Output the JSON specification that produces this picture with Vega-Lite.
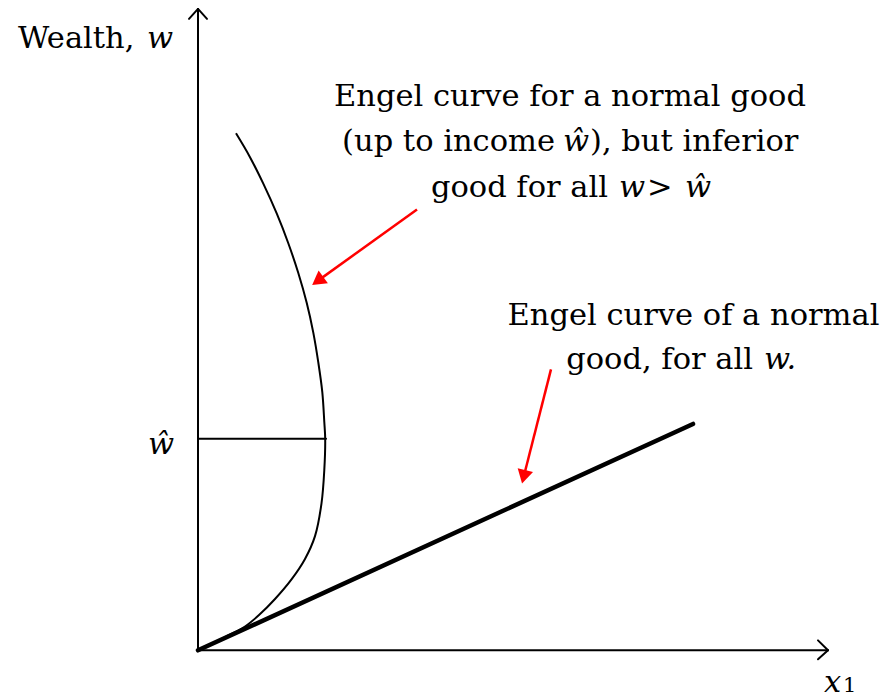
{
  "$schema": "https://vega.github.io/schema/vega-lite/v6.json",
  "width": 893,
  "height": 699,
  "autosize": {"type": "fit", "contains": "padding"},
  "padding": 0,
  "background": "white",
  "config": {"view": {"stroke": null}},
  "datasets": {
    "axes": [
      {"x1": 0, "y1": 0, "x2": 0, "y2": 646},
      {"x1": -9, "y1": 636, "x2": 0, "y2": 646},
      {"x1": 9, "y1": 636, "x2": 0, "y2": 646},
      {"x1": 0, "y1": 0, "x2": 630, "y2": 0},
      {"x1": 620, "y1": 10, "x2": 630, "y2": 0},
      {"x1": 620, "y1": -9, "x2": 630, "y2": 0},
      {"x1": 0, "y1": 213, "x2": 128, "y2": 213}
    ],
    "normal": [
      {"x1": 0, "y1": 0, "x2": 495, "y2": 228}
    ],
    "curve": [
      {"i": 0, "x": 0, "y": 0},
      {"i": 1, "x": 15, "y": 7},
      {"i": 2, "x": 30.3, "y": 15},
      {"i": 3, "x": 47, "y": 24},
      {"i": 4, "x": 61, "y": 35.5},
      {"i": 5, "x": 77, "y": 51.7},
      {"i": 6, "x": 93.7, "y": 71.7},
      {"i": 7, "x": 107, "y": 92},
      {"i": 8, "x": 117, "y": 115},
      {"i": 9, "x": 123.5, "y": 148},
      {"i": 10, "x": 126.3, "y": 181.7},
      {"i": 11, "x": 127.2, "y": 213},
      {"i": 12, "x": 126.3, "y": 230},
      {"i": 13, "x": 124.3, "y": 260},
      {"i": 14, "x": 120.3, "y": 290},
      {"i": 15, "x": 115.3, "y": 320},
      {"i": 16, "x": 108.7, "y": 350},
      {"i": 17, "x": 100.3, "y": 380},
      {"i": 18, "x": 90.3, "y": 410},
      {"i": 19, "x": 78.7, "y": 440},
      {"i": 20, "x": 65.3, "y": 470},
      {"i": 21, "x": 52, "y": 496.7},
      {"i": 22, "x": 38, "y": 520.7}
    ],
    "shafts": [
      {"x1": 219, "y1": 444, "x2": 119.7, "y2": 372.1},
      {"x1": 353, "y1": 283, "x2": 325.7, "y2": 174.8}
    ],
    "head1": [{"x": 119.7, "y": 372.1}],
    "head2": [{"x": 325.7, "y": 174.8}],
    "textCenter": [
      {"x": 372, "y": 548, "t": "Engel curve for a normal good"},
      {"x": 495.5, "y": 328, "t": "Engel curve of a normal"}
    ],
    "textRight": [
      {"x": 357, "y": 503, "t": "(up to income"},
      {"x": 410, "y": 457, "t": "good for all"},
      {"x": 555, "y": 283, "t": "good, for all"}
    ],
    "textLeft": [
      {"x": 392, "y": 503, "t": "), but inferior"},
      {"x": 449, "y": 457, "t": ">"},
      {"x": -180, "y": 607, "t": "Wealth,"}
    ],
    "textItalic": [
      {"x": 365, "y": 503, "t": "ŵ"},
      {"x": 421, "y": 457, "t": "w"},
      {"x": 487, "y": 457, "t": "ŵ"},
      {"x": 566, "y": 283, "t": "w."},
      {"x": -51, "y": 607, "t": "w"},
      {"x": -50, "y": 198, "t": "ŵ"},
      {"x": 626, "y": -42, "t": "x"}
    ],
    "textSub": [
      {"x": 645, "y": -42, "t": "1"}
    ]
  },
  "encoding": {
    "x": {"type": "quantitative", "scale": {"domain": [-198, 695], "nice": false, "zero": false}, "axis": null},
    "y": {"type": "quantitative", "scale": {"domain": [-44, 655], "nice": false, "zero": false}, "axis": null}
  },
  "layer": [
    {
      "data": {"name": "axes"},
      "mark": {"type": "rule", "color": "black", "strokeWidth": 2, "strokeCap": "round"},
      "encoding": {
        "x": {"field": "x1", "type": "quantitative"},
        "y": {"field": "y1", "type": "quantitative"},
        "x2": {"field": "x2"},
        "y2": {"field": "y2"}
      }
    },
    {
      "data": {"name": "curve"},
      "mark": {"type": "line", "color": "black", "strokeWidth": 2, "interpolate": "catmull-rom"},
      "encoding": {
        "x": {"field": "x", "type": "quantitative"},
        "y": {"field": "y", "type": "quantitative"},
        "order": {"field": "i", "type": "quantitative"}
      }
    },
    {
      "data": {"name": "normal"},
      "mark": {"type": "rule", "color": "black", "strokeWidth": 4.5, "strokeCap": "round"},
      "encoding": {
        "x": {"field": "x1", "type": "quantitative"},
        "y": {"field": "y1", "type": "quantitative"},
        "x2": {"field": "x2"},
        "y2": {"field": "y2"}
      }
    },
    {
      "data": {"name": "shafts"},
      "mark": {"type": "rule", "color": "#ff0000", "strokeWidth": 2.5},
      "encoding": {
        "x": {"field": "x1", "type": "quantitative"},
        "y": {"field": "y1", "type": "quantitative"},
        "x2": {"field": "x2"},
        "y2": {"field": "y2"}
      }
    },
    {
      "data": {"name": "head1"},
      "mark": {"type": "point", "shape": "triangle-up", "filled": true, "color": "#ff0000", "opacity": 1, "size": 250, "angle": 234},
      "encoding": {
        "x": {"field": "x", "type": "quantitative"},
        "y": {"field": "y", "type": "quantitative"}
      }
    },
    {
      "data": {"name": "head2"},
      "mark": {"type": "point", "shape": "triangle-up", "filled": true, "color": "#ff0000", "opacity": 1, "size": 250, "angle": 194},
      "encoding": {
        "x": {"field": "x", "type": "quantitative"},
        "y": {"field": "y", "type": "quantitative"}
      }
    },
    {
      "data": {"name": "textCenter"},
      "mark": {"type": "text", "font": "DejaVu Serif", "fontSize": 30.5, "align": "center", "baseline": "alphabetic", "color": "black"},
      "encoding": {
        "x": {"field": "x", "type": "quantitative"},
        "y": {"field": "y", "type": "quantitative"},
        "text": {"field": "t"}
      }
    },
    {
      "data": {"name": "textRight"},
      "mark": {"type": "text", "font": "DejaVu Serif", "fontSize": 30.5, "align": "right", "baseline": "alphabetic", "color": "black"},
      "encoding": {
        "x": {"field": "x", "type": "quantitative"},
        "y": {"field": "y", "type": "quantitative"},
        "text": {"field": "t"}
      }
    },
    {
      "data": {"name": "textLeft"},
      "mark": {"type": "text", "font": "DejaVu Serif", "fontSize": 30.5, "align": "left", "baseline": "alphabetic", "color": "black"},
      "encoding": {
        "x": {"field": "x", "type": "quantitative"},
        "y": {"field": "y", "type": "quantitative"},
        "text": {"field": "t"}
      }
    },
    {
      "data": {"name": "textItalic"},
      "mark": {"type": "text", "font": "DejaVu Serif", "fontStyle": "italic", "fontSize": 30.5, "align": "left", "baseline": "alphabetic", "color": "black"},
      "encoding": {
        "x": {"field": "x", "type": "quantitative"},
        "y": {"field": "y", "type": "quantitative"},
        "text": {"field": "t"}
      }
    },
    {
      "data": {"name": "textSub"},
      "mark": {"type": "text", "font": "DejaVu Serif", "fontSize": 21, "align": "left", "baseline": "alphabetic", "color": "black"},
      "encoding": {
        "x": {"field": "x", "type": "quantitative"},
        "y": {"field": "y", "type": "quantitative"},
        "text": {"field": "t"}
      }
    }
  ]
}
